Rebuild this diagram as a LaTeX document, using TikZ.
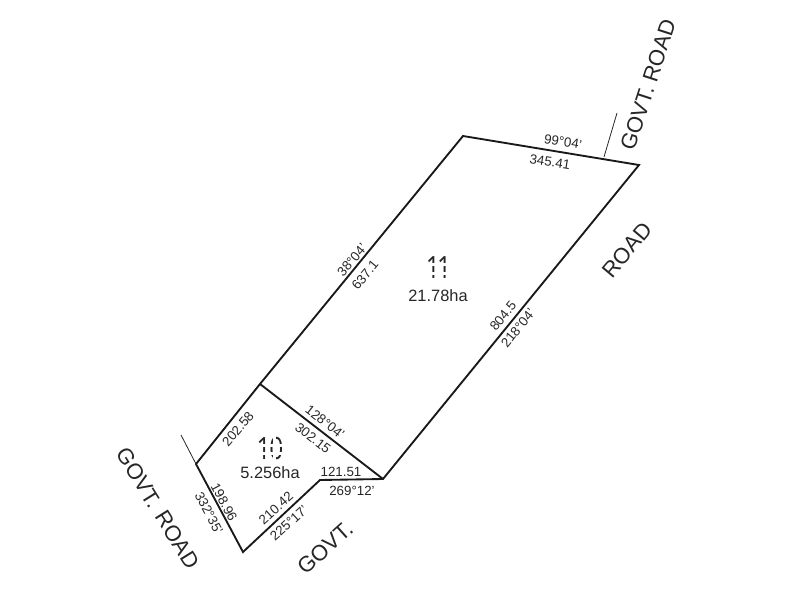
\documentclass[tikz,border=0pt]{standalone}
\usepackage{fontspec}
\setmainfont{Liberation Sans}
\newfontfamily\lotfont[FakeStretch=0.8]{Open Sans}
\tikzset{
  boundary/.style={line width=1.4pt,line join=miter,black!90},
  tickline/.style={line width=0.6pt,black!85},
  dim/.style={font=\fontsize{10pt}{11pt}\selectfont,inner sep=0pt,text=black!85},
  area/.style={font=\fontsize{12.3pt}{14pt}\selectfont,inner sep=0pt,text=black!85},
  road/.style={font=\fontsize{16.5pt}{18pt}\selectfont,inner sep=0pt,text=black!85},
  lotno/.style={font=\lotfont\fontsize{23pt}{24pt}\selectfont,inner sep=0pt,text=black!85}
}
\begin{document}
\begin{tikzpicture}[x=0.75pt,y=-0.75pt]
\useasboundingbox (0,0) rectangle (800,600);
\coordinate (A) at (463,136);
\coordinate (B) at (639,165);
\coordinate (C) at (383,479);
\coordinate (D) at (320,480);
\coordinate (E) at (243,552);
\coordinate (F) at (196,464);
\coordinate (G) at (260,384);
\coordinate (T1) at (604,157);
\coordinate (T1e) at (617,113);
\coordinate (T2e) at (181,435);
\draw[boundary] (A) -- (B) -- (C) -- (D) -- (E) -- (F) -- (G) -- cycle;
\draw[boundary] (G) -- (C);
\draw[tickline] (T1) -- (T1e);
\draw[tickline] (F) -- (T2e);

\node[dim,rotate=-9] (n1) at (563,142) {99°04'};
\node[dim,rotate=-9] (n2) at (550,162) {345.41};
\node[road,rotate=72] (n3) at (648,85) {GOVT. ROAD};
\node[road,rotate=50] (n4) at (627,250) {ROAD};
\node[dim,rotate=51] (n5) at (503,316) {804.5};
\node[dim,rotate=51] (n6) at (518,328) {218°04'};
\node[area] (n7) at (438,296) {21.78ha};
\begin{scope}
  \clip (420,254) rectangle (460,262.5) (420,266) rectangle (460,271.5) (420,274.5) rectangle (460,280);
  \node[lotno] (n8) at (438.5,268) {1\kern-2.2pt 1};
\end{scope}
\node[dim,rotate=50] (n9) at (352,260) {38°04'};
\node[dim,rotate=50] (n10) at (365,275) {637.1};
\node[dim,rotate=-38] (n11) at (325,422) {128°04'};
\node[dim,rotate=-38] (n12) at (313,438) {302.15};
\node[dim,rotate=50] (n13) at (238,429) {202.58};
\begin{scope}
  \clip (250,434) rectangle (272.5,443.5) (250,447) rectangle (290,451.5) (250,455) rectangle (272.5,464)
        (275.5,434) rectangle (290,443.5) (275.5,455) rectangle (290,464);
  \node[lotno] (n14) at (270,448.5) {1\kern-1pt 0};
\end{scope}
\node[area] (n15) at (270,473) {5.256ha};
\node[dim] (n16) at (341,472) {121.51};
\node[dim] (n17) at (352,491) {269°12'};
\node[dim,rotate=-62] (n18) at (224,502) {198.96};
\node[dim,rotate=-62] (n19) at (209,513) {332°35'};
\node[dim,rotate=42] (n20) at (276,508) {210.42};
\node[dim,rotate=42] (n21) at (289,523) {225°17'};
\node[road,rotate=42] (n22) at (325,548) {GOVT.};
\node[road,rotate=-58] (n23) at (158,508) {GOVT.\hspace{0.38em}ROAD};
\end{tikzpicture}
\end{document}
